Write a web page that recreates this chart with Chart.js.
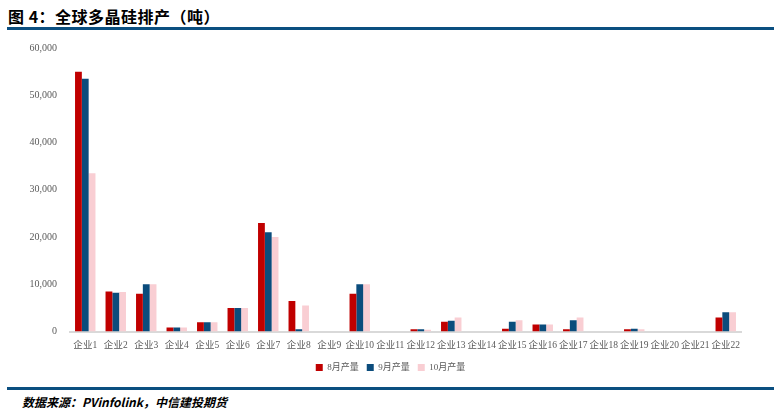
<!DOCTYPE html>
<html>
<head>
<meta charset="utf-8">
<script src="https://cdn.jsdelivr.net/npm/chart.js@4"></script>
<style>
  body { margin: 0; width: 781px; height: 415px; background: #fff; position: relative; overflow: hidden; }
  .title { position: absolute; left: 8px; top: 4px; font: bold 16px "Noto Sans CJK SC", sans-serif; color: #000; letter-spacing: 0.5px; }
  .rule { position: absolute; left: 7px; width: 767px; height: 3px; background: #0b4f80; }
  .source { position: absolute; left: 22px; top: 393px; font: italic bold 12px "Noto Sans CJK SC", sans-serif; color: #000; }
  .box { position: absolute; left: 0; top: 37px; width: 781px; height: 347px; }
</style>
</head>
<body>
<div class="title">图 4：全球多晶硅排产（吨）</div>
<div class="rule" style="top:27px"></div>
<div class="box"><canvas id="myChart"></canvas></div>
<div class="rule" style="top:387px"></div>
<div class="source">数据来源：PVinfolink，中信建投期货</div>
<script>
const companies = ['企业1','企业2','企业3','企业4','企业5','企业6','企业7','企业8','企业9','企业10','企业11',
  '企业12','企业13','企业14','企业15','企业16','企业17','企业18','企业19','企业20','企业21','企业22'];
const aug = [55000, 8500, 8000, 850, 2000, 5000, 23000, 6500, 0, 8000, 0, 500, 2100, 0, 600, 1500, 500, 0, 500, 0, 0, 3000];
const sep = [53500, 8200, 10000, 850, 2000, 5000, 21000, 500, 0, 10000, 0, 500, 2300, 0, 2100, 1500, 2400, 0, 600, 0, 0, 4100];
const oct = [33500, 8400, 10000, 850, 2000, 5000, 20000, 5500, 0, 10000, 0, 400, 3000, 0, 2400, 1500, 3000, 0, 500, 0, 0, 4100];
const yTicks = [0, 10000, 20000, 30000, 40000, 50000, 60000];

const serif = '"Liberation Serif", "Noto Sans CJK SC", serif';

const ctx = document.getElementById('myChart').getContext('2d');
new Chart(ctx, {
  type: 'bar',
  data: {
    labels: companies,
    datasets: [
      { label: '8月产量', data: aug, backgroundColor: '#c00000' },
      { label: '9月产量', data: sep, backgroundColor: '#0b4c7c' },
      { label: '10月产量', data: oct, backgroundColor: '#f9ced3' }
    ].map(d => Object.assign(d, { categoryPercentage: 0.67, barPercentage: 1.0, borderWidth: 0 }))
  },
  options: {
    responsive: true,
    maintainAspectRatio: false,
    animation: false,
    layout: { padding: { left: 2, right: 2, top: 10, bottom: 2 } },
    plugins: {
      legend: {
        position: 'bottom',
        labels: {
          color: '#595959',
          usePointStyle: true,
          pointStyle: 'rect',
          boxWidth: 7,
          boxHeight: 7,
          padding: 8,
          font: { size: 9, family: serif }
        }
      },
      tooltip: { enabled: false }
    },
    scales: {
      x: {
        afterFit: s => { s.height += 4; },
        grid: { display: false },
        border: { display: true, color: '#d9d9d9', width: 2 },
        ticks: { color: '#595959', font: { size: 9.5, family: serif }, maxRotation: 0, autoSkip: false, padding: 0 }
      },
      y: {
        min: 0,
        max: 60000,
        afterBuildTicks: s => { s.ticks = yTicks.map(v => ({ value: v })); },
        afterFit: s => { s.width = 68; },
        grid: { display: false },
        border: { display: false },
        ticks: {
          color: '#595959',
          padding: 5,
          font: { size: 10, family: serif },
          callback: v => v.toLocaleString('en-US')
        }
      },
      spacer: {
        position: 'right',
        afterFit: s => { s.width = 38; },
        grid: { display: false },
        border: { display: false },
        ticks: { display: false }
      }
    }
  }
});
</script>
</body>
</html>
